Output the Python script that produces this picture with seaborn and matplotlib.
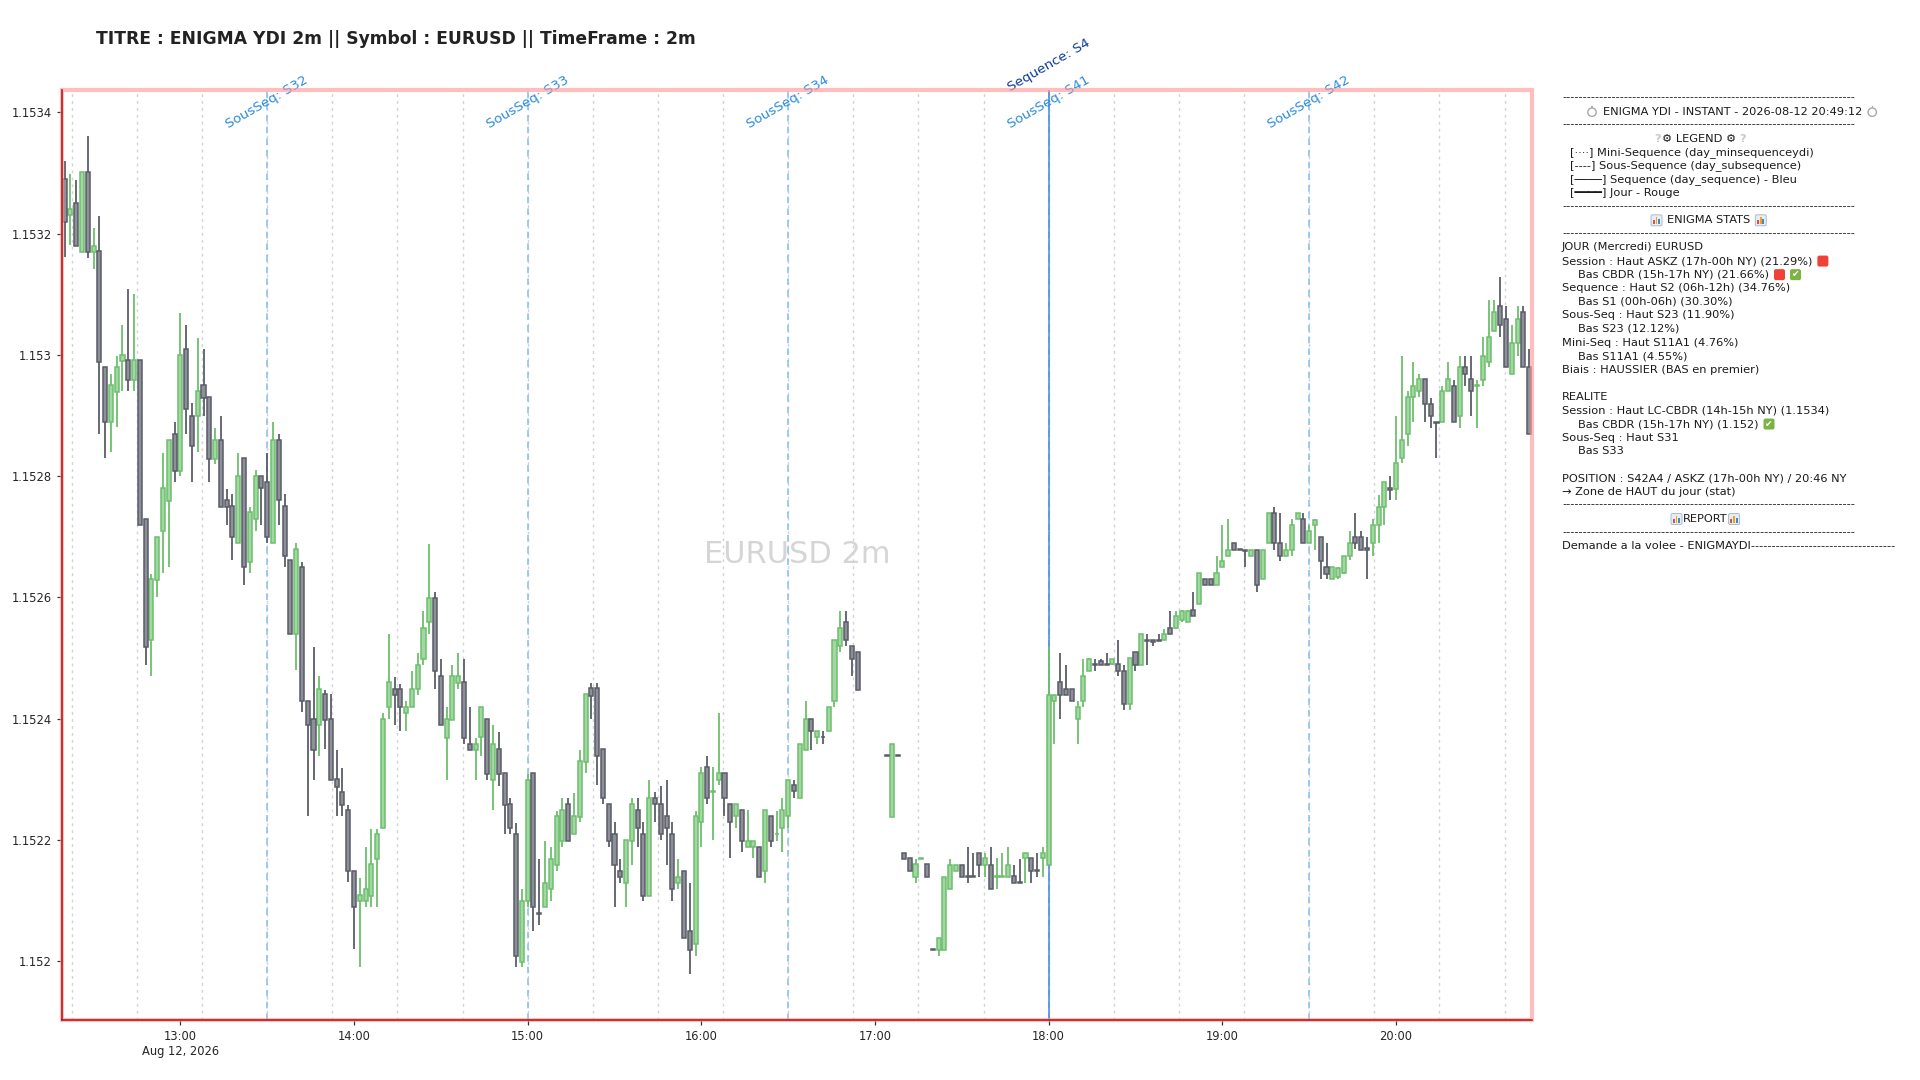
import numpy as np
import pandas as pd
import matplotlib
matplotlib.use("Agg")
import matplotlib.pyplot as plt
import matplotlib.dates as mdates
from matplotlib.ticker import MultipleLocator, FuncFormatter
from matplotlib.patches import Rectangle, FancyBboxPatch, Circle
from matplotlib.transforms import IdentityTransform, blended_transform_factory
from matplotlib import font_manager, ft2font
import seaborn as sns

# ---------------- data ----------------
# EURUSD 2m candles, prices given as points (1e-5) above 1.15000
BASE = 1.15
PT = 1e-5
start = "2026-08-12 12:20"
nan = np.nan

open_pts = [
    329.1, 323.0, 325.1, 316.9, 330.1, 316.9, 317.1, 298.0, 288.9, 293.9,
    299.0, 299.1, 295.9, 299.1, 273.0, 252.9, 262.9, 270.9, 275.9, 287.0,
    280.9, 301.0, 290.0, 290.0, 295.0, 293.0, 282.9, 286.0, 276.0, 275.0,
    269.0, 283.0, 265.8, 273.0, 280.0, 279.0, 269.0, 286.0, 275.0, 266.1,
    253.9, 265.0, 243.0, 240.0, 238.9, 244.0, 239.9, 230.0, 227.9, 225.0,
    214.9, 209.9, 210.0, 210.8, 216.9, 221.9, 241.9, 244.9, 244.9, 240.9,
    241.9, 244.9, 249.9, 255.9, 259.9, 247.0, 236.8, 239.8, 245.9, 246.0,
    235.9, 234.8, 236.9, 239.9, 229.9, 235.0, 231.0, 225.9, 221.0, 199.9,
    209.9, 231.0, 208.0, 208.9, 211.9, 215.9, 219.9, 225.9, 220.9, 223.8,
    232.8, 245.0, 245.0, 235.0, 225.9, 221.0, 214.9, 212.9, 219.9, 224.9,
    221.0, 210.8, 226.9, 225.9, 223.9, 221.0, 212.9, 214.9, 204.9, 202.8,
    222.9, 232.0, 227.9, 229.9, 231.0, 225.9, 223.9, 224.9, 218.9, 218.9,
    218.9, 214.9, 223.9, 220.9, 221.9, 223.9, 229.0, 226.9, 234.9, 240.0,
    236.9, 237.0, 237.9, 243.0, 252.0, 255.9, 252.0, 251.0, nan, nan,
    nan, nan, 234.0, 223.8, 234.0, 217.9, 217.0, 213.9, 216.9, 216.0,
    202.0, 201.9, 201.9, 211.9, 214.8, 215.9, 214.1, 214.0, 217.9, 215.9,
    215.9, 213.9, 213.9, 213.9, 214.0, 213.0, 217.0, 217.0, 215.0, 217.0,
    215.9, 243.0, 246.0, 244.9, 244.9, 239.9, 242.9, 247.9, 249.1, 249.5,
    249.1, 249.0, 249.0, 247.9, 242.5, 251.0, 248.9, 253.0, 252.9, 253.0,
    253.0, 255.0, 255.0, 256.2, 256.0, 258.0, 258.9, 263.0, 263.0, 262.0,
    265.0, 266.9, 268.9, 268.0, 267.9, 266.9, 267.9, 263.0, 268.9, 273.9,
    268.9, 266.9, 267.9, 272.9, 272.9, 268.9, 272.0, 269.9, 265.0, 263.0,
    263.3, 264.0, 266.9, 269.9, 269.9, 268.2, 268.9, 271.9, 274.9, 278.0,
    277.9, 283.0, 286.9, 293.0, 294.0, 296.1, 291.9, 288.9, 288.9, 294.0,
    294.9, 289.9, 298.0, 296.1, 294.9, 295.9, 298.9, 304.0, 308.1, 306.0,
    296.9, 302.0, 307.1, 298.0,
]
high_pts = [
    332.0, 329.9, 328.9, 330.1, 336.1, 321.0, 322.9, 298.0, 296.9, 299.9,
    305.0, 310.9, 310.0, 299.1, 273.0, 263.9, 270.0, 283.9, 286.0, 288.9,
    306.9, 305.0, 292.0, 302.8, 300.9, 293.0, 287.9, 289.9, 277.9, 277.0,
    283.9, 283.0, 274.9, 281.0, 280.0, 283.9, 288.9, 287.0, 277.0, 266.1,
    268.9, 265.8, 243.0, 251.9, 247.0, 244.7, 244.0, 234.8, 231.9, 225.8,
    214.9, 213.8, 218.9, 221.8, 221.8, 240.9, 253.9, 246.8, 245.8, 242.9,
    247.9, 250.8, 257.8, 268.8, 260.9, 249.9, 241.9, 248.9, 250.8, 249.9,
    241.9, 236.8, 242.0, 239.9, 238.9, 237.8, 231.0, 226.9, 222.8, 211.9,
    230.9, 231.0, 216.9, 219.9, 218.9, 224.8, 226.9, 226.9, 227.8, 234.9,
    244.0, 245.9, 245.9, 235.0, 225.9, 222.9, 216.9, 220.0, 226.9, 226.9,
    222.9, 229.9, 227.9, 228.9, 229.9, 222.9, 216.9, 214.9, 212.9, 224.8,
    232.0, 233.9, 232.0, 240.9, 231.0, 225.9, 225.9, 224.9, 224.9, 219.9,
    218.9, 224.9, 223.9, 224.8, 226.9, 229.9, 229.9, 235.9, 243.0, 240.0,
    237.9, 237.9, 241.9, 253.0, 257.8, 257.8, 252.0, 251.0, nan, nan,
    nan, nan, 234.0, 235.9, 234.0, 217.9, 217.0, 216.9, 217.0, 216.0,
    202.0, 203.9, 213.9, 216.9, 215.9, 215.9, 218.8, 217.8, 217.9, 217.9,
    218.8, 217.0, 217.8, 218.8, 215.9, 216.9, 217.9, 217.0, 217.8, 218.8,
    251.8, 243.9, 250.8, 248.9, 244.9, 242.9, 249.9, 250.0, 249.9, 249.9,
    250.9, 249.9, 252.9, 248.9, 250.0, 251.0, 254.0, 254.0, 253.0, 253.9,
    254.8, 257.8, 257.8, 258.0, 258.0, 260.9, 264.0, 263.0, 263.0, 266.9,
    271.9, 272.9, 268.9, 268.0, 267.9, 267.9, 267.9, 267.9, 273.9, 274.9,
    273.9, 268.9, 272.9, 273.9, 273.9, 271.9, 272.9, 269.9, 268.9, 265.0,
    265.0, 266.9, 270.9, 273.9, 270.9, 269.9, 272.9, 276.9, 279.0, 280.0,
    289.9, 299.9, 294.0, 298.9, 296.9, 296.1, 292.9, 288.9, 294.9, 298.9,
    295.9, 299.9, 299.9, 299.9, 295.9, 302.9, 309.0, 309.0, 312.9, 308.1,
    305.0, 308.1, 308.1, 301.0,
]
low_pts = [
    316.2, 318.1, 317.9, 316.9, 316.0, 314.1, 287.0, 283.0, 284.0, 288.1,
    294.0, 294.0, 294.0, 271.9, 248.9, 247.0, 260.0, 264.0, 265.0, 279.0,
    280.0, 287.0, 279.0, 284.0, 290.0, 279.0, 282.0, 274.9, 272.0, 266.1,
    269.0, 262.1, 264.0, 271.0, 272.0, 269.0, 269.0, 272.0, 265.0, 254.0,
    248.1, 241.1, 224.0, 229.9, 233.9, 235.0, 229.9, 224.0, 224.0, 213.0,
    202.0, 199.0, 209.0, 209.0, 209.0, 221.9, 239.9, 238.9, 238.0, 238.0,
    241.9, 243.9, 248.9, 254.0, 244.9, 238.9, 229.9, 239.8, 244.9, 235.9,
    234.8, 229.9, 233.9, 229.9, 224.9, 228.9, 221.0, 221.0, 199.0, 199.0,
    209.0, 205.0, 205.9, 208.9, 210.0, 214.9, 218.9, 219.9, 220.9, 222.9,
    231.0, 240.0, 229.0, 225.9, 218.9, 209.0, 212.9, 209.0, 215.9, 218.9,
    210.0, 210.8, 222.9, 220.0, 215.9, 210.0, 211.9, 203.9, 197.9, 200.9,
    218.9, 225.9, 220.0, 229.0, 223.9, 217.0, 221.9, 218.0, 218.9, 217.0,
    213.9, 212.9, 218.9, 219.9, 218.0, 221.9, 226.9, 226.9, 234.9, 234.9,
    235.9, 235.9, 237.9, 242.0, 251.0, 252.0, 247.0, 244.8, nan, nan,
    nan, nan, 233.9, 223.8, 233.9, 216.8, 214.8, 212.9, 216.9, 213.9,
    201.9, 200.9, 201.9, 211.9, 214.8, 213.9, 212.9, 213.9, 213.9, 213.9,
    211.9, 211.9, 213.9, 213.9, 212.9, 212.9, 212.9, 212.9, 213.9, 213.9,
    215.9, 235.9, 240.0, 243.9, 242.9, 235.9, 241.9, 247.8, 247.9, 248.9,
    248.9, 248.9, 247.0, 241.5, 241.5, 247.9, 248.9, 248.9, 252.0, 252.8,
    253.0, 253.9, 254.8, 255.9, 255.9, 256.9, 258.9, 262.0, 262.0, 262.0,
    265.0, 266.9, 267.9, 267.9, 265.0, 266.9, 260.9, 263.0, 268.9, 267.9,
    266.0, 266.9, 266.9, 272.9, 268.9, 268.9, 267.9, 263.0, 263.0, 263.0,
    263.0, 263.9, 266.1, 268.0, 267.9, 263.1, 266.9, 268.9, 271.9, 276.0,
    276.0, 282.1, 284.9, 288.9, 293.0, 288.9, 288.0, 283.0, 288.9, 294.0,
    288.9, 288.0, 294.9, 289.9, 288.0, 294.9, 298.0, 304.0, 302.9, 298.0,
    296.9, 299.9, 298.0, 286.9,
]
close_pts = [
    321.9, 324.1, 317.9, 330.1, 316.9, 318.0, 298.8, 288.9, 295.0, 298.0,
    300.0, 295.9, 299.1, 271.9, 251.8, 263.1, 270.0, 278.0, 286.0, 280.9,
    300.0, 291.0, 284.9, 294.0, 292.9, 282.9, 286.0, 274.9, 274.9, 270.0,
    280.0, 265.0, 274.1, 280.0, 278.0, 270.0, 286.0, 276.0, 266.9, 254.0,
    268.0, 243.0, 238.9, 234.9, 244.9, 239.8, 229.9, 228.8, 225.8, 214.8,
    208.9, 211.0, 211.9, 216.0, 221.0, 239.9, 246.0, 243.9, 241.9, 241.9,
    244.9, 248.9, 254.9, 259.9, 247.9, 238.9, 239.9, 247.0, 247.0, 236.8,
    234.8, 235.9, 242.0, 230.9, 235.9, 230.9, 225.8, 221.9, 200.8, 210.0,
    229.9, 208.9, 207.8, 212.9, 216.9, 223.9, 224.9, 219.9, 223.9, 233.0,
    244.0, 243.8, 233.8, 226.9, 219.9, 215.9, 213.9, 220.0, 225.9, 221.9,
    210.8, 226.9, 225.9, 221.0, 221.9, 211.9, 213.9, 203.9, 201.9, 223.9,
    231.0, 226.9, 228.0, 231.0, 226.9, 222.9, 225.9, 219.9, 219.9, 219.9,
    213.9, 224.9, 219.9, 221.0, 224.9, 229.9, 228.0, 235.9, 240.0, 237.9,
    237.9, 236.9, 241.9, 253.0, 255.0, 252.9, 249.9, 244.8, nan, nan,
    nan, nan, 233.9, 235.9, 233.9, 216.8, 214.8, 216.0, 217.0, 213.9,
    201.9, 203.9, 213.9, 215.9, 215.9, 213.9, 213.9, 213.9, 215.9, 217.0,
    211.9, 214.0, 214.0, 215.9, 212.9, 212.9, 217.9, 214.8, 214.9, 217.9,
    243.9, 243.9, 243.9, 243.9, 243.0, 241.9, 247.0, 249.9, 248.9, 248.9,
    248.9, 249.9, 247.8, 242.5, 250.0, 248.9, 254.0, 252.8, 252.6, 252.8,
    254.0, 254.0, 256.9, 257.8, 257.8, 256.9, 264.0, 262.0, 262.0, 264.0,
    266.0, 267.9, 267.9, 267.9, 267.7, 267.9, 262.0, 267.9, 273.9, 268.9,
    266.9, 267.9, 271.9, 273.9, 268.9, 270.9, 272.7, 266.0, 263.9, 265.0,
    264.9, 266.9, 268.9, 268.9, 267.9, 267.9, 271.9, 274.9, 279.0, 277.8,
    282.1, 285.9, 293.0, 294.9, 296.1, 291.9, 289.9, 288.7, 294.0, 296.1,
    288.9, 298.0, 296.9, 294.0, 295.1, 299.9, 302.9, 307.1, 305.0, 298.0,
    302.0, 306.0, 298.0, 286.9,
]

# structure lines (day 2026-08-12)
mini_times = ["12:22:30", "12:45", "13:07:30", "13:30", "13:52:30", "14:15",
              "14:37:30", "15:00", "15:22:30", "15:45", "16:07:30", "16:30",
              "16:52:30", "17:15", "17:37:30", "18:00", "18:22:30", "18:45",
              "19:07:30", "19:30", "19:52:30", "20:15", "20:37:30"]
sous_times = ["13:30", "15:00", "16:30", "18:00", "19:30"]
sous_names = ["S32", "S33", "S34", "S41", "S42"]
seq_times = ["18:00"]
seq_names = ["S4"]

title = "TITRE : ENIGMA YDI 2m || Symbol : EURUSD || TimeFrame : 2m"
watermark = "EURUSD 2m"

# ---------------- build frame ----------------
df = pd.DataFrame({
    "open": BASE + np.array(open_pts) * PT,
    "high": BASE + np.array(high_pts) * PT,
    "low": BASE + np.array(low_pts) * PT,
    "close": BASE + np.array(close_pts) * PT,
}, index=pd.date_range(start, periods=len(open_pts), freq="2min"))
df["x"] = mdates.date2num(df.index)
df = df.dropna()
up = df["close"] >= df["open"]

day = "2026-08-12 "
def tnum(s):
    return mdates.date2num(pd.Timestamp(day + s))

sns.set_theme(style="ticks")
plt.rcParams["font.family"] = ["DejaVu Sans"]

W, H = 1920, 1080
fig = plt.figure(figsize=(W / 100, H / 100), dpi=100)
ax = fig.add_axes([61.7 / W, 1 - 1020 / H, (1532 - 61.7) / W, 930 / H])

# vertical structure lines
for s in mini_times:
    ax.axvline(tnum(s), color="#cfd3d8", ls=(0, (2, 3)), lw=1.0, zorder=1)
trans = blended_transform_factory(ax.transData, ax.transAxes)
for s, name in zip(sous_times, sous_names):
    ax.axvline(tnum(s), color="#8fc3e8", ls=(0, (4, 3)), lw=1.2, zorder=1.2)
    ax.text(tnum(s), 0.987, f"SousSeq: {name}", transform=trans, rotation=30,
            ha="center", va="center", fontsize=9.7, color="#2a8be0", clip_on=False)
for s, name in zip(seq_times, seq_names):
    ax.axvline(tnum(s), color="#4f8fe3", lw=1.3, alpha=0.9, zorder=1.3)
    ax.text(tnum(s), 1.027, f"Sequence: {name}", transform=trans, rotation=30,
            ha="center", va="center", fontsize=9.7, color="#0b3d9c", clip_on=False)

# watermark
ax.text(0.5, 0.5, watermark, transform=ax.transAxes, ha="center", va="center",
        fontsize=22, color="#c4c4c4", alpha=0.7, zorder=0)

# candles
step = 2 / 1440
width = step * 0.7
edge_up, fill_up = "#6cbf6c", "#a2d6a2"
edge_dn, fill_dn = "#5a5d68", "#8d9099"
for mask, ec, fc in [(up, edge_up, fill_up), (~up, edge_dn, fill_dn)]:
    d = df[mask]
    ax.vlines(d["x"], d["low"], d["high"], color=ec, lw=1.3, zorder=2)
    ax.bar(d["x"], (d["close"] - d["open"]).abs(), bottom=np.minimum(d["open"], d["close"]),
           width=width, color=fc, edgecolor=ec, linewidth=1.1, zorder=3)

# limits
lo, hi = df["low"].min(), df["high"].max()
pad = 0.055 * (hi - lo)
ax.set_ylim(lo - pad, hi + pad)
ax.set_xlim(df["x"].iloc[0] - step / 2, df["x"].iloc[-1] + step / 2)

ax.yaxis.set_major_locator(MultipleLocator(0.0002))
ax.yaxis.set_major_formatter(FuncFormatter(lambda v, p: ("%.4f" % v).rstrip("0")))
ax.xaxis.set_major_locator(mdates.HourLocator())
first_hour = df.index[0].ceil("h")
def fmt_time(v, pos):
    d = mdates.num2date(v)
    s = d.strftime("%H:%M")
    if d.hour == first_hour.hour:
        s += "\n" + d.strftime("%b %d, %Y")
    return s
ax.xaxis.set_major_formatter(FuncFormatter(fmt_time))
ax.tick_params(labelsize=8.3, length=3.5, width=0.9, colors="#333333", labelcolor="#262626")

# day frame
for side in ["top", "right"]:
    ax.spines[side].set_visible(False)
for side in ["left", "bottom"]:
    ax.spines[side].set_color("#b01e1e")
    ax.spines[side].set_linewidth(1.2)
    ax.spines[side].set_zorder(6)
ax.add_patch(Rectangle((0, 0), 1, 1, transform=ax.transAxes, fill=False,
                       ec="#ff9a9a", alpha=0.65, lw=3, clip_on=False, zorder=5))

# title
fig.text(96 / W, 1 - 39.3 / H, title, fontsize=12.3, fontweight="bold", color="#222222",
         ha="left", va="center")

# ---------------- side panel ----------------
tf = IdentityTransform()
renderer = fig.canvas.get_renderer()
FS = 8.2
TXT = "#1a1a1a"
LINE1_Y, PITCH = 111.7, 13.58

_ft = ft2font.FT2Font(font_manager.findfont(font_manager.FontProperties(family="DejaVu Sans")))
def has_glyph(ch):
    return _ft.get_char_index(ord(ch)) != 0

def ypix(i):
    return H - (LINE1_Y + (i - 1) * PITCH)

def put_text(x, y, s, color=TXT, **kw):
    t = fig.text(x, y, s, transform=tf, fontsize=FS, color=color, ha="left", va="center", **kw)
    return x + t.get_window_extent(renderer).width

def icon_square(x, y, color, size=11):
    fig.add_artist(FancyBboxPatch((x, y - size / 2), size, size,
                                  boxstyle="round,pad=0,rounding_size=2",
                                  fc=color, ec="none", transform=tf))
    return x + size

def icon_check(x, y, size=11):
    icon_square(x, y, "#7bb443", size)
    fig.text(x + size / 2, y, "\u2714", transform=tf, fontsize=6.5, color="white",
             ha="center", va="center")
    return x + size

def icon_bars(x, y, size=11):
    fig.add_artist(FancyBboxPatch((x, y - size / 2), size, size,
                                  boxstyle="round,pad=0,rounding_size=1.5",
                                  fc="#e6edf4", ec="#9fb2c6", lw=0.6, transform=tf))
    for k, (hgt, c) in enumerate([(4, "#e94b3c"), (7, "#f2a31b"), (5.5, "#3f86d6")]):
        fig.add_artist(Rectangle((x + 1.8 + k * 2.7, y - size / 2 + 1.5), 1.8, hgt,
                                 fc=c, ec="none", transform=tf))
    return x + size

def icon_watch(x, y):
    if has_glyph("\u23f1"):
        return put_text(x, y, "\u23f1", color="#a8a8a8")
    fig.add_artist(Circle((x + 5, y - 0.5), 4.2, fc="none", ec="#a8a8a8", lw=1.0, transform=tf))
    fig.add_artist(Rectangle((x + 4.3, y + 3.6), 1.4, 1.8, fc="#a8a8a8", ec="none", transform=tf))
    return x + 10

DASH = "-" * 71
X0 = 1562
XI = 1578
XL = 1570

def dash(i):
    put_text(X0, ypix(i) + 1, DASH)

dash(0)
x = icon_watch(1587, ypix(1))
x = put_text(x + 6, ypix(1), "ENIGMA YDI - INSTANT - 2026-08-12 20:49:12")
icon_watch(x + 5, ypix(1))
dash(2)
x = put_text(1654, ypix(3), "?", color="#c9c9c9", fontweight="bold")
x = put_text(x + 2, ypix(3), "\u2699 LEGEND \u2699")
put_text(x + 3, ypix(3), "?", color="#c9c9c9", fontweight="bold")
put_text(XL, ypix(4), "[\u00b7\u00b7\u00b7\u00b7] Mini-Sequence (day_minsequenceydi)")
put_text(XL, ypix(5), "[----] Sous-Sequence (day_subsequence)")
put_text(XL, ypix(6), "[\u2500\u2500\u2500\u2500] Sequence (day_sequence) - Bleu")
put_text(XL, ypix(7), "[\u2501\u2501\u2501\u2501] Jour - Rouge")
dash(8)
x = icon_bars(1651, ypix(9))
x = put_text(x + 5, ypix(9), "ENIGMA STATS")
icon_bars(x + 5, ypix(9))
dash(10)
put_text(X0, ypix(11), "JOUR (Mercredi) EURUSD")
x = put_text(X0, ypix(12), "Session : Haut ASKZ (17h-00h NY) (21.29%)")
icon_square(x + 5, ypix(12), "#ef4136")
x = put_text(XI, ypix(13), "Bas CBDR (15h-17h NY) (21.66%)")
x = icon_square(x + 5, ypix(13), "#ef4136")
icon_check(x + 5, ypix(13))
put_text(X0, ypix(14), "Sequence : Haut S2 (06h-12h) (34.76%)")
put_text(XI, ypix(15), "Bas S1 (00h-06h) (30.30%)")
put_text(X0, ypix(16), "Sous-Seq : Haut S23 (11.90%)")
put_text(XI, ypix(17), "Bas S23 (12.12%)")
put_text(X0, ypix(18), "Mini-Seq : Haut S11A1 (4.76%)")
put_text(XI, ypix(19), "Bas S11A1 (4.55%)")
put_text(X0, ypix(20), "Biais : HAUSSIER (BAS en premier)")
put_text(X0, ypix(22), "REALITE")
put_text(X0, ypix(23), "Session : Haut LC-CBDR (14h-15h NY) (1.1534)")
x = put_text(XI, ypix(24), "Bas CBDR (15h-17h NY) (1.152)")
icon_check(x + 5, ypix(24))
put_text(X0, ypix(25), "Sous-Seq : Haut S31")
put_text(XI, ypix(26), "Bas S33")
put_text(X0, ypix(28), "POSITION : S42A4 / ASKZ (17h-00h NY) / 20:46 NY")
put_text(X0, ypix(29), "\u2192 Zone de HAUT du jour (stat)")
dash(30)
x = icon_bars(1671, ypix(31))
x = put_text(x + 1, ypix(31), "REPORT")
icon_bars(x + 1, ypix(31))
dash(32)
put_text(X0, ypix(33), "Demande a la volee - ENIGMAYDI" + "-" * 35)

fig.savefig("out.png", dpi=100)
